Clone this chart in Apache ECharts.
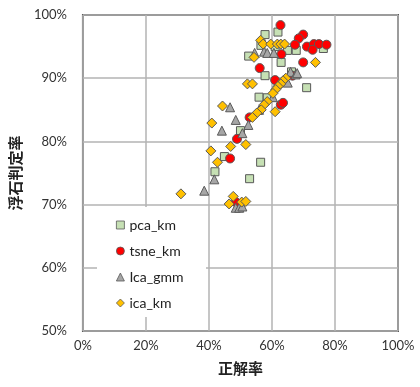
<!DOCTYPE html>
<html>
<head>
<meta charset="utf-8">
<script src="https://cdn.jsdelivr.net/npm/echarts@6/dist/echarts.min.js"></script>
<style>
  html, body { margin: 0; padding: 0; background: #fff; }
  #chart { width: 420px; height: 387px; }
</style>
</head>
<body>
<div id="chart"></div>
<script>
// [正解率, 浮石判定率] in percent
const pcaKm = [
  [57.8, 96.9], [61.9, 97.3], [52.6, 93.5], [64.9, 94.4], [67.7, 94.4],
  [62.9, 92.5], [57.8, 90.4], [66.2, 91.0], [71.0, 88.5], [76.3, 94.7],
  [55.9, 87.0], [58.5, 86.9], [50.0, 81.7], [44.9, 77.6], [41.9, 75.2],
  [56.4, 76.7], [52.9, 74.1], [56.5, 95.2], [61.0, 95.0]
];
const tsneKm = [
  [62.7, 98.4], [69.9, 96.9], [68.5, 96.3], [67.3, 95.3], [71.1, 95.0],
  [73.3, 95.4], [74.9, 95.4], [77.3, 95.3], [72.9, 94.5], [63.0, 93.8],
  [69.9, 92.5], [56.1, 91.6], [61.0, 89.7], [66.5, 90.4], [62.8, 85.8],
  [63.5, 86.1], [52.9, 83.8], [48.9, 80.4], [46.7, 77.3], [48.5, 70.4]
];
const icaGmm = [
  [54.5, 94.0], [57.5, 94.2], [58.5, 94.0], [60.6, 94.0], [65.9, 91.0],
  [67.5, 90.6], [68.0, 90.8], [65.0, 89.3], [60.3, 87.0], [46.7, 85.4],
  [48.5, 83.4], [52.5, 82.6], [44.1, 81.7], [50.6, 81.3], [41.7, 74.0],
  [38.5, 72.2], [48.5, 69.5], [49.6, 69.5], [50.6, 69.7], [55.9, 85.0]
];
const icaKm = [
  [56.4, 96.0], [57.2, 95.4], [59.6, 95.4], [61.7, 95.4], [62.8, 95.4],
  [64.0, 95.4], [54.3, 93.3], [73.8, 92.5], [52.2, 89.1], [53.8, 89.1],
  [64.4, 90.0], [63.5, 89.6], [62.8, 89.1], [61.9, 88.7], [61.2, 88.2],
  [60.3, 87.6], [58.5, 86.3], [57.5, 85.8], [56.6, 85.0], [55.2, 84.5],
  [53.8, 83.8], [61.0, 84.7], [44.3, 85.6], [40.9, 82.9], [46.9, 79.2],
  [51.7, 79.5], [40.6, 78.5], [42.7, 76.7], [31.1, 71.7], [47.7, 71.3],
  [46.4, 70.1], [50.4, 70.4], [51.7, 70.5]
];
const seriesNames = ["pca_km", "tsne_km", "Ica_gmm", "ica_km"];

const font = "Lato, 'Noto Sans CJK JP', sans-serif";
const cjk = "'Noto Sans CJK JP', sans-serif";
const pct = (v) => Math.round(v) + "%";

const chart = echarts.init(document.getElementById("chart"), null, { renderer: "canvas" });

function scatter(name, data, symbol, size, fill) {
  return {
    name,
    type: "scatter",
    data,
    symbol,
    symbolSize: size,
    itemStyle: { color: fill, borderColor: "#595959", borderWidth: 1, opacity: 1 },
    emphasis: { disabled: true }
  };
}

chart.setOption({
  animation: false,
  grid: {
    left: 82, top: 15, width: 316, height: 316,
    show: true, borderColor: "#595959", borderWidth: 2
  },
  graphic: [{
    type: "rect",
    z: 1,
    shape: { x: 97, y: 207, width: 109, height: 110 },
    style: { fill: "#ffffff" }
  }],
  legend: {
    data: [
      { name: seriesNames[0], icon: "rect" },
      { name: seriesNames[1], icon: "circle" },
      { name: seriesNames[2], icon: "triangle" },
      { name: seriesNames[3], icon: "diamond" }
    ],
    orient: "vertical",
    left: 111,
    top: 212,
    itemWidth: 8,
    itemHeight: 8,
    itemGap: 10,
    itemStyle: { borderWidth: 0.8 },
    textStyle: { fontFamily: font, fontSize: 14, color: "#222", lineHeight: 16 },
    z: 5
  },
  xAxis: {
    type: "value",
    min: 0, max: 100, interval: 20,
    name: "正解率",
    nameLocation: "middle",
    nameGap: 30,
    nameTextStyle: { fontFamily: cjk, fontSize: 15, fontWeight: "bold", color: "#222" },
    axisLine: { show: false },
    axisTick: { show: false },
    axisLabel: { formatter: pct, fontFamily: font, fontSize: 13, color: "#333", margin: 8 },
    splitLine: { lineStyle: { color: "#b3b3b3", width: 1.5 } }
  },
  yAxis: {
    type: "value",
    min: 50, max: 100, interval: 10,
    name: "浮石判定率",
    nameLocation: "middle",
    nameGap: 43,
    nameTextStyle: { fontFamily: cjk, fontSize: 15, fontWeight: "bold", color: "#222" },
    axisLine: { show: false },
    axisTick: { show: false },
    axisLabel: { formatter: pct, fontFamily: font, fontSize: 13, color: "#333", margin: 16 },
    splitLine: { lineStyle: { color: "#b3b3b3", width: 1.5 } }
  },
  series: [
    scatter(seriesNames[0], pcaKm, "rect", 8, "#c6e0b4"),
    scatter(seriesNames[1], tsneKm, "circle", 9, "#ff0000"),
    scatter(seriesNames[2], icaGmm, "triangle", 9, "#a6a6a6"),
    scatter(seriesNames[3], icaKm, "diamond", 10, "#ffc000")
  ]
});
</script>
</body>
</html>
